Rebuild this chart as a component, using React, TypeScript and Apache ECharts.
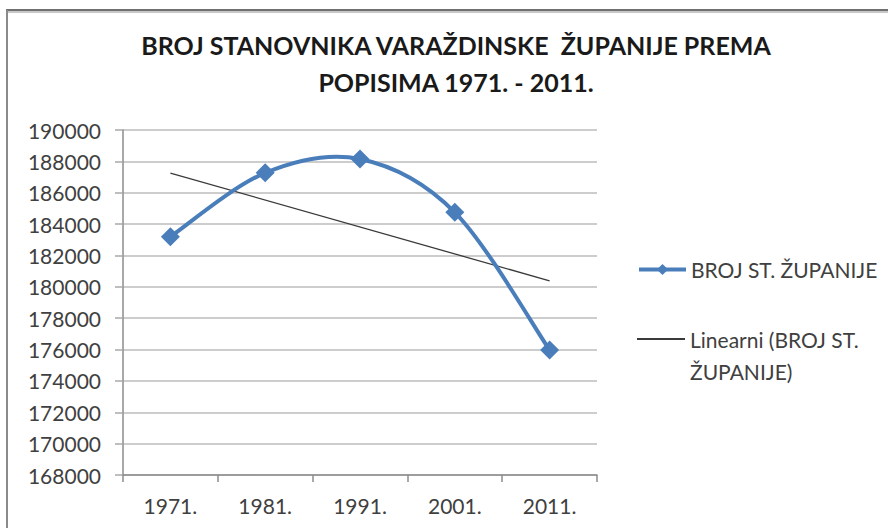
import React, { useEffect, useRef } from "react";
import * as echarts from "echarts";

const titleText = "BROJ STANOVNIKA VARAŽDINSKE  ŽUPANIJE PREMA\nPOPISIMA 1971. - 2011.";
const years = ["1971.", "1981.", "1991.", "2001.", "2011."];
const seriesName = "BROJ ST. ŽUPANIJE";
const population = [183200, 187270, 188150, 184750, 175970];
const trendName = "Linearni (BROJ ST. ŽUPANIJE)";
const trendValues = [187250, null, null, null, 180380];
const yMin = 168000;
const yMax = 190000;
const yStep = 2000;

const FONT = "Lato, 'Open Sans', sans-serif";
const BLUE = "#4a7ebb";

export default function App() {
  const ref = useRef<HTMLDivElement>(null);
  useEffect(() => {
    if (!ref.current) return;
    const chart = echarts.init(ref.current, null, { renderer: "svg" });
    chart.setOption({
      animation: false,
      backgroundColor: "#ffffff",
      textStyle: { fontFamily: FONT },
      title: {
        text: titleText,
        left: 451,
        top: 21,
        textAlign: "center",
        textStyle: {
          fontFamily: FONT,
          fontSize: 25,
          fontWeight: "bold",
          color: "#1a1a1a",
          lineHeight: 37,
        },
      },
      graphic: [
        { type: "line", shape: { x1: 6, y1: 10, x2: 888, y2: 10 }, style: { stroke: "#707070", lineWidth: 2 } },
        { type: "line", shape: { x1: 8, y1: 12, x2: 888, y2: 12 }, style: { stroke: "#c8c8c8", lineWidth: 2 } },
        { type: "line", shape: { x1: 7, y1: 10, x2: 7, y2: 528 }, style: { stroke: "#8a8a8a", lineWidth: 2 } },
      ],
      legend: [
        {
          data: [seriesName],
          left: 632,
          top: 254,
          itemWidth: 47,
          itemHeight: 14,
          lineStyle: { opacity: 1, width: 4, color: BLUE },
          textStyle: { fontFamily: FONT, fontSize: 21, color: "#404040" },
        },
        {
          data: [{ name: trendName, icon: "rect" }],
          left: 632,
          top: 286,
          itemWidth: 48,
          itemHeight: 2,
          formatter: () => "\nLinearni (BROJ ST.\nŽUPANIJE)",
          textStyle: {
            fontFamily: FONT,
            fontSize: 21,
            color: "#404040",
            lineHeight: 32,
          },
        },
      ],
      grid: { left: 123, right: 291, top: 130, bottom: 53 },
      xAxis: {
        type: "category",
        data: years,
        boundaryGap: true,
        axisLine: { lineStyle: { color: "#8c8c8c", width: 1.5 } },
        axisTick: { show: true, length: 7, lineStyle: { color: "#8c8c8c", width: 1.5 } },
        axisLabel: { margin: 20, fontSize: 21, color: "#404040", fontFamily: FONT },
      },
      yAxis: {
        type: "value",
        min: yMin,
        max: yMax,
        interval: yStep,
        axisLine: { show: true, lineStyle: { color: "#8c8c8c", width: 1.5 } },
        axisTick: { show: true, length: 8, lineStyle: { color: "#a8a8a8", width: 1.5 } },
        splitLine: { lineStyle: { color: "#bdbdbd", width: 1.5 } },
        axisLabel: {
          margin: 22,
          fontSize: 21,
          color: "#404040",
          fontFamily: FONT,
          formatter: (v: number) => String(v),
        },
      },
      series: [
        {
          name: "curve",
          type: "custom",
          data: population.map((v, i) => [i, v]),
          encode: { x: 0, y: 1 },
          z: 3,
          renderItem: (params: any, api: any) => {
            if (params.dataIndex !== 0) return null;
            const pts = population.map((v, i) => api.coord([i, v]));
            const n = pts.length;
            const children: any[] = [];
            for (let i = 0; i < n - 1; i++) {
              const p0 = pts[Math.max(i - 1, 0)];
              const p1 = pts[i];
              const p2 = pts[i + 1];
              const p3 = pts[Math.min(i + 2, n - 1)];
              children.push({
                type: "bezierCurve",
                shape: {
                  x1: p1[0],
                  y1: p1[1],
                  cpx1: p1[0] + (p2[0] - p0[0]) / 6,
                  cpy1: p1[1] + (p2[1] - p0[1]) / 6,
                  cpx2: p2[0] - (p3[0] - p1[0]) / 6,
                  cpy2: p2[1] - (p3[1] - p1[1]) / 6,
                  x2: p2[0],
                  y2: p2[1],
                },
                style: { stroke: BLUE, lineWidth: 4, fill: "none", lineCap: "round" },
              });
            }
            return { type: "group", children };
          },
        },
        {
          name: seriesName,
          type: "line",
          data: population,
          symbol: "diamond",
          symbolSize: 19,
          itemStyle: { color: BLUE },
          lineStyle: { color: BLUE, width: 4, opacity: 0 },
          z: 4,
        },
        {
          name: trendName,
          type: "line",
          data: trendValues,
          connectNulls: true,
          symbol: "none",
          showSymbol: false,
          itemStyle: { color: "#3a3a3a" },
          lineStyle: { color: "#3a3a3a", width: 1.3 },
          z: 2,
        },
      ],
    });
    return () => chart.dispose();
  }, []);
  return (
    <div
      ref={ref}
      style={{ position: "absolute", left: 0, top: 0, width: 888, height: 528 }}
    />
  );
}
